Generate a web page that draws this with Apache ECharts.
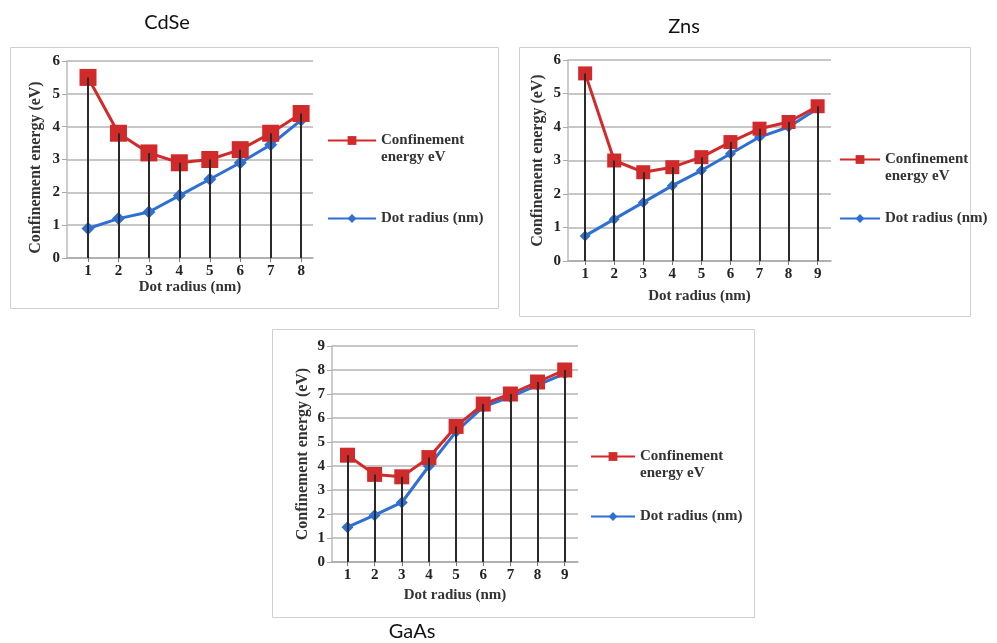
<!DOCTYPE html>
<html><head><meta charset="utf-8">
<script src="https://cdn.jsdelivr.net/npm/echarts@6/dist/echarts.min.js"></script>
<style>html,body{margin:0;padding:0;background:#fff}#c{width:997px;height:643px}</style>
</head><body><div id="c"></div>
<script>
// ---- data ----
const cdseRadius = [1, 2, 3, 4, 5, 6, 7, 8];
const cdseConfinement = [5.5, 3.8, 3.2, 2.9, 3.0, 3.3, 3.8, 4.4];
const cdseDot = [0.9, 1.2, 1.4, 1.9, 2.4, 2.9, 3.45, 4.2];

const znsRadius = [1, 2, 3, 4, 5, 6, 7, 8, 9];
const znsConfinement = [5.6, 3.0, 2.65, 2.8, 3.1, 3.55, 3.95, 4.15, 4.62];
const znsDot = [0.75, 1.25, 1.75, 2.25, 2.7, 3.2, 3.7, 4.0, 4.55];

const gaasRadius = [1, 2, 3, 4, 5, 6, 7, 8, 9];
const gaasConfinement = [4.45, 3.65, 3.55, 4.35, 5.65, 6.58, 7.0, 7.5, 8.0];
const gaasDot = [1.45, 1.95, 2.48, 4.0, 5.43, 6.46, 6.88, 7.37, 7.85];

const yTicksSmall = [0, 1, 2, 3, 4, 5, 6];
const yTicksLarge = [0, 1, 2, 3, 4, 5, 6, 7, 8, 9];

const titles = ['CdSe', 'Zns', 'GaAs'];
const nameConf = 'Confinement energy eV';
const nameDot = 'Dot radius (nm)';
const yName = 'Confinement energy (eV)';
const xName = 'Dot radius (nm)';

// ---- styling ----
const RED = '#d12a2a', BLUE = '#2f6fd3';
const SERIF = '"Liberation Serif", "DejaVu Serif", serif';
const panels = [
  {r: cdseRadius, c: cdseConfinement, d: cdseDot, yMax: 6,
   grid: {left: 67, top: 61, width: 246, height: 197}, xMin: 0.31, xMax: 8.39,
   xGap: 21, yGap: 23, yShift: 8,
   sq: 17, dia: 13, legend: {left: 327, top: 115, itemGap: 44, itemWidth: 48}},
  {r: znsRadius, c: znsConfinement, d: znsDot, yMax: 6,
   grid: {left: 568, top: 60, width: 263, height: 201}, xMin: 0.41, xMax: 9.46,
   xGap: 28, yGap: 22, yShift: 0,
   sq: 14, dia: 11, legend: {left: 839, top: 134, itemGap: 25, itemWidth: 40}},
  {r: gaasRadius, c: gaasConfinement, d: gaasDot, yMax: 9,
   grid: {left: 332, top: 346, width: 246, height: 216}, xMin: 0.43, xMax: 9.49,
   xGap: 26, yGap: 21, yShift: 0,
   sq: 15, dia: 12, legend: {left: 590, top: 431, itemGap: 26, itemWidth: 44}}
];

const grids = [], xAxes = [], yAxes = [], series = [], legends = [];
panels.forEach((p, i) => {
  grids.push(Object.assign({containLabel: false}, p.grid));
  xAxes.push({
    type: 'value', gridIndex: i, min: p.xMin, max: p.xMax,
    name: xName, nameLocation: 'middle', nameGap: p.xGap,
    nameTextStyle: {fontFamily: SERIF, fontSize: 15, fontWeight: 'bold', color: '#333'},
    axisLine: {show: true, lineStyle: {color: '#aaa', width: 1.5}},
    axisTick: {show: true, customValues: p.r, length: 4, lineStyle: {color: '#777'}},
    splitLine: {show: false},
    axisLabel: {customValues: p.r, fontFamily: SERIF, fontSize: 15, fontWeight: 'bold', color: '#222', margin: 6}
  });
  const yt = p.yMax === 6 ? yTicksSmall : yTicksLarge;
  yAxes.push({
    type: 'value', gridIndex: i, min: 0, max: p.yMax, interval: 1,
    name: yName, nameLocation: 'middle', nameGap: p.yGap,
    nameTextStyle: {fontFamily: SERIF, fontSize: 16, fontWeight: 'bold', color: '#333',
                    padding: [0, p.yShift * 2, 0, 0]},
    axisLine: {show: true, lineStyle: {color: '#bbb', width: 1.5}},
    axisTick: {show: true, length: 5, lineStyle: {color: '#aaa'}},
    splitLine: {show: true, lineStyle: {color: '#b5b5b5', width: 1.5}},
    axisLabel: {customValues: yt, fontFamily: SERIF, fontSize: 15, fontWeight: 'bold', color: '#222', margin: 7}
  });
  series.push({
    name: nameConf, type: 'line', xAxisIndex: i, yAxisIndex: i,
    data: p.r.map((x, k) => [x, p.c[k]]),
    symbol: 'rect', symbolSize: p.sq, z: 3,
    lineStyle: {color: RED, width: 3}, itemStyle: {color: RED}
  });
  series.push({
    name: nameDot, type: 'line', xAxisIndex: i, yAxisIndex: i,
    data: p.r.map((x, k) => [x, p.d[k]]),
    symbol: 'diamond', symbolSize: p.dia, z: 2,
    lineStyle: {color: BLUE, width: 3}, itemStyle: {color: BLUE}
  });
  // drop lines from each confinement point to the axis
  series.push({
    name: 'drop' + i, type: 'line', xAxisIndex: i, yAxisIndex: i, z: 5, silent: true,
    data: p.r.map((x, k) => [x, p.c[k]]), symbol: 'none', lineStyle: {width: 0, opacity: 0},
    markLine: {
      silent: true, symbol: ['none', 'none'], animation: false,
      label: {show: false},
      lineStyle: {color: '#2a2a2a', width: 2, type: 'solid'},
      data: p.r.map((x, k) => [{coord: [x, p.c[k]]}, {coord: [x, 0]}])
    }
  });
  legends.push({
    orient: 'vertical', left: p.legend.left, top: p.legend.top, itemGap: p.legend.itemGap,
    padding: 0,
    itemWidth: p.legend.itemWidth, itemHeight: 11, selectedMode: false,
    data: [nameConf, nameDot],
    formatter: n => n === nameConf ? '\nConfinement\nenergy eV' : n,
    textStyle: {fontFamily: SERIF, fontSize: 15, fontWeight: 'bold', color: '#333', lineHeight: 17}
  });
});

const boxes = [
  {x: 10, y: 47, w: 488, h: 261},
  {x: 519, y: 47, w: 451, h: 269},
  {x: 272, y: 329, w: 482, h: 288}
];
const graphic = boxes.map(b => ({
  type: 'rect', shape: {x: b.x + 0.5, y: b.y + 0.5, width: b.w, height: b.h}, z: -10,
  style: {fill: '#fff', stroke: '#cfcfcf', lineWidth: 1}
}));
const titlePos = [[167, 23], [684, 27], [412, 632]];
titles.forEach((t, i) => graphic.push({
  type: 'text', x: titlePos[i][0], y: titlePos[i][1],
  style: {text: t, fontFamily: 'Lato, "Open Sans", sans-serif', fontSize: 20, fill: '#111', align: 'center', verticalAlign: 'middle'}
}));

const chart = echarts.init(document.getElementById('c'), null, {renderer: 'canvas'});
chart.setOption({
  backgroundColor: '#fff', animation: false,
  grid: grids, xAxis: xAxes, yAxis: yAxes, series: series, legend: legends, graphic: graphic
});
</script></body></html>
